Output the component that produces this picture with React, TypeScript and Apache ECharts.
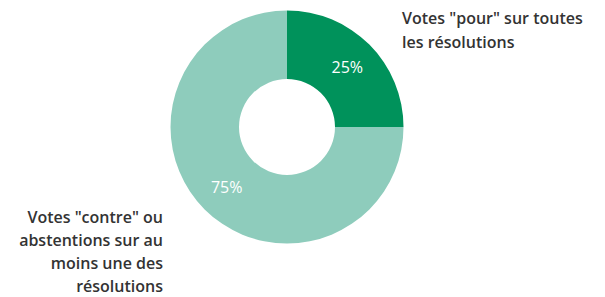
import React, { useEffect, useRef } from "react";
import * as echarts from "echarts";

const categories = [
  'Votes "pour" sur toutes\nles résolutions',
  'Votes "contre" ou\nabstentions sur au\nmoins une des\nrésolutions',
];
const values = [25, 75];
const colors = ["#00925B", "#8ECCBC"];

export default function App() {
  const ref = useRef<HTMLDivElement>(null);
  useEffect(() => {
    if (!ref.current) return;
    const chart = echarts.init(ref.current, undefined, { renderer: "svg" });
    const font = "'Open Sans', sans-serif";
    const leftLines = categories[1].split("\n");
    chart.setOption({
      animation: false,
      series: [
        {
          type: "pie",
          center: [287, 127],
          radius: [48, 116.5],
          startAngle: 90,
          clockwise: true,
          silent: true,
          label: {
            show: true,
            position: "inside",
            formatter: "{c}%",
            color: "#ffffff",
            fontSize: 16,
            fontWeight: 500,
            fontFamily: font,
          },
          labelLine: { show: false },
          data: values.map((v, i) => ({
            value: v,
            name: categories[i],
            itemStyle: { color: colors[i] },
          })),
        },
      ],
      graphic: [
        {
          type: "text",
          x: 402,
          y: 6,
          style: {
            text: categories[0],
            fill: "#333333",
            font: `600 16px ${font}`,
            lineHeight: 24,
            align: "left",
            verticalAlign: "top",
          },
        },
        ...leftLines.map((line, i) => ({
          type: "text",
          x: 163,
          y: 217 + i * 23,
          style: {
            text: line,
            fill: "#333333",
            font: `600 16px ${font}`,
            lineHeight: 18,
            align: "right",
            verticalAlign: "middle",
          },
        })),
      ],
    });
    return () => chart.dispose();
  }, []);
  return <div ref={ref} style={{ width: 605, height: 297, position: "absolute", left: 0, top: 0 }} />;
}
